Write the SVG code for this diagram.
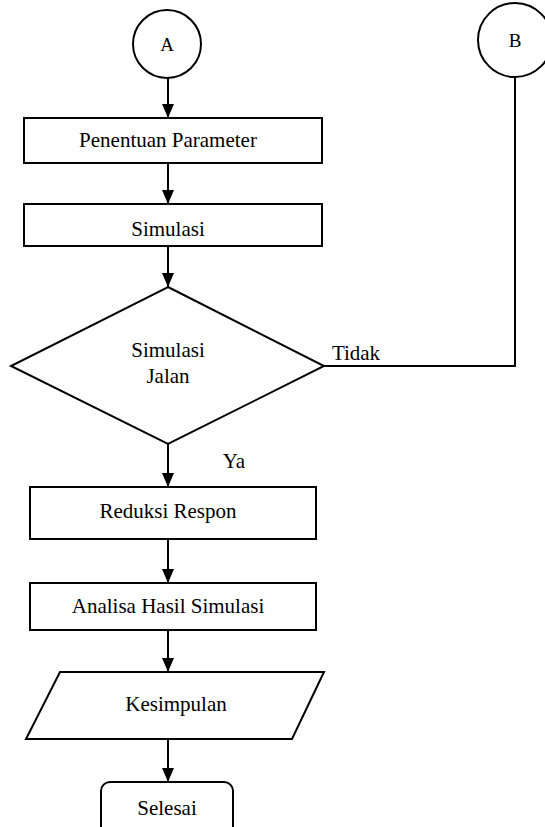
<svg xmlns="http://www.w3.org/2000/svg" width="545" height="827" viewBox="0 0 545 827">
<defs>
<marker id="arr" viewBox="0 0 14 12" refX="14" refY="6" markerWidth="14" markerHeight="12" markerUnits="userSpaceOnUse" orient="auto">
<path d="M0,0 L14,6 L0,12 Z" fill="#000"/>
</marker>
</defs>
<style>
.s{fill:#fff;stroke:#000;stroke-width:2}
.t{font-size:21px;fill:#000;text-anchor:middle}
.c{fill:none;stroke:#000;stroke-width:2}
</style>
<rect width="545" height="827" fill="#fff"/>
<g font-family="Liberation Serif, DejaVu Serif, serif">
<g id="connectors">
<line class="c" x1="168" y1="78" x2="168" y2="118" marker-end="url(#arr)"/>
<line class="c" x1="168" y1="163" x2="168" y2="204" marker-end="url(#arr)"/>
<line class="c" x1="168" y1="246" x2="168" y2="287" marker-end="url(#arr)"/>
<line class="c" x1="168" y1="444" x2="168" y2="487" marker-end="url(#arr)"/>
<line class="c" x1="168" y1="539" x2="168" y2="583" marker-end="url(#arr)"/>
<line class="c" x1="168" y1="630" x2="168" y2="672" marker-end="url(#arr)"/>
<line class="c" x1="168" y1="739" x2="168" y2="782" marker-end="url(#arr)"/>
<polyline class="c" points="324,366 515,366 515,77"/>
<text class="t" x="356" y="360">Tidak</text>
<text class="t" x="234" y="468">Ya</text>
</g>
<g id="nodeA">
<circle class="s" cx="167" cy="44" r="34"/>
<text class="t" x="167" y="51" style="font-size:19px">A</text>
</g>
<g id="nodeB">
<circle class="s" cx="515" cy="40" r="37"/>
<text class="t" x="515" y="47" style="font-size:19px">B</text>
</g>
<g id="penentuan">
<rect class="s" x="24" y="118" width="298" height="45"/>
<text class="t" x="168" y="147">Penentuan Parameter</text>
</g>
<g id="simulasi">
<rect class="s" x="24" y="204" width="298" height="42"/>
<text class="t" x="168" y="236">Simulasi</text>
</g>
<g id="decision">
<polygon class="s" points="168,287 324,366 168,444 11,366"/>
<text class="t" x="168" y="357">Simulasi</text>
<text class="t" x="168" y="383">Jalan</text>
</g>
<g id="reduksi">
<rect class="s" x="30" y="487" width="286" height="52"/>
<text class="t" x="168" y="518">Reduksi Respon</text>
</g>
<g id="analisa">
<rect class="s" x="30" y="583" width="286" height="47"/>
<text class="t" x="168" y="613">Analisa Hasil Simulasi</text>
</g>
<g id="kesimpulan">
<polygon class="s" points="60,672 324,672 292,739 26,739"/>
<text class="t" x="176" y="711">Kesimpulan</text>
</g>
<g id="selesai">
<rect class="s" x="101" y="782" width="132" height="60" rx="9"/>
<text class="t" x="167" y="815">Selesai</text>
</g>
</g>
</svg>
